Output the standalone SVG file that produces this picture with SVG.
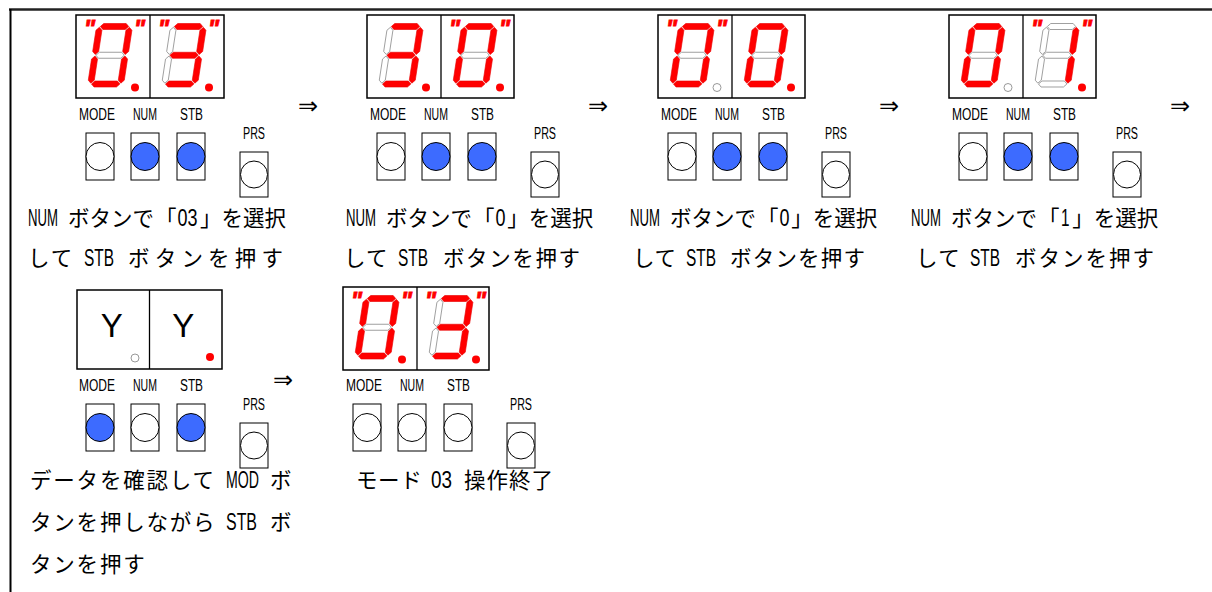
<svg xmlns="http://www.w3.org/2000/svg" width="1212" height="592" viewBox="0 0 1212 592">
<style>
.box{fill:#fff;stroke:#000;stroke-width:1.5}
.div{stroke:#000;stroke-width:1.3}
.on{fill:#ff0000;stroke:#e80000;stroke-width:0.6}
.off{fill:#fff;stroke:#999;stroke-width:0.9}
.don{fill:#ff0000}
.doff{fill:#fff;stroke:#999;stroke-width:1}
.btn{fill:#fff;stroke:#000;stroke-width:1}
.bl{fill:#3d6bff;stroke:#000;stroke-width:1}
.wh{fill:#fff;stroke:#000;stroke-width:1}
.lbl{font-family:"Liberation Sans",sans-serif;font-size:16px;text-anchor:middle;fill:#000}
.q{font-family:"Liberation Sans",sans-serif;font-weight:bold;font-style:italic;font-size:24px;fill:#ff0000;stroke:#ff0000;stroke-width:0.8;text-anchor:middle}
.txt{font-family:"Liberation Sans","Noto Sans CJK JP",sans-serif;font-size:21.5px;fill:#000}
.lat{font-size:23px}
.arr{font-family:"DejaVu Sans",sans-serif;font-size:24px;text-anchor:middle;fill:#000}
.yy{font-family:"Liberation Sans",sans-serif;font-size:33px;text-anchor:middle;fill:#000}
</style>
<defs>
<polygon id="sa" points="0.8,0 3.8,-3 26.2,-3 29.2,0 26.2,3 3.8,3"/>
<polygon id="sg" points="0.8,28.75 3.8,25.75 26.2,25.75 29.2,28.75 26.2,31.75 3.8,31.75"/>
<polygon id="sd" points="0.8,57.5 3.8,54.5 26.2,54.5 29.2,57.5 26.2,60.5 3.8,60.5"/>
<polygon id="sf" points="0,0.8 3,3.8 3,24.95 0,27.95 -3,24.95 -3,3.8"/>
<polygon id="sb" points="30,0.8 33,3.8 33,24.95 30,27.95 27,24.95 27,3.8"/>
<polygon id="se" points="0,29.55 3,32.55 3,53.7 0,56.7 -3,53.7 -3,32.55"/>
<polygon id="sc" points="30,29.55 33,32.55 33,53.7 30,56.7 27,53.7 27,32.55"/>
<g id="dig0" transform="skewX(-8.7)">
<use href="#sa" class="on"/><use href="#sb" class="on"/><use href="#sc" class="on"/><use href="#sd" class="on"/><use href="#se" class="on"/><use href="#sf" class="on"/><use href="#sg" class="off"/>
</g>
<g id="dig3" transform="skewX(-8.7)">
<use href="#sa" class="on"/><use href="#sb" class="on"/><use href="#sc" class="on"/><use href="#sd" class="on"/><use href="#se" class="off"/><use href="#sf" class="off"/><use href="#sg" class="on"/>
</g>
<g id="dig1" transform="skewX(-8.7)">
<use href="#sa" class="off"/><use href="#sb" class="on"/><use href="#sc" class="on"/><use href="#sd" class="off"/><use href="#se" class="off"/><use href="#sf" class="off"/><use href="#sg" class="off"/>
</g>
</defs>

<g id="frame">
<line x1="9" y1="9.5" x2="1212" y2="9.5" stroke="#222" stroke-width="2.5"/>
<line x1="10.5" y1="9" x2="10.5" y2="592" stroke="#000" stroke-width="2"/>
</g>

<g id="disp1" transform="translate(76,15)">
<rect class="box" x="0" y="0" width="148" height="83"/>
<line class="div" x1="74" y1="0" x2="74" y2="83"/>
<use href="#dig0" transform="translate(23.5,11.5)"/>
<use href="#dig3" transform="translate(97.5,11.5)"/>
<circle class="don" cx="59" cy="72.5" r="4"/>
<circle class="don" cx="133" cy="72.5" r="4"/>
<text class="q" x="13.5" y="22">"</text><text class="q" x="63.5" y="22">"</text>
<text class="q" x="87.5" y="22">"</text><text class="q" x="137.5" y="22">"</text>
</g>
<g id="disp2" transform="translate(367,15)">
<rect class="box" x="0" y="0" width="147" height="83"/>
<line class="div" x1="74" y1="0" x2="74" y2="83"/>
<use href="#dig3" transform="translate(23.5,11.5)"/>
<use href="#dig0" transform="translate(97.5,11.5)"/>
<circle class="don" cx="59" cy="72.5" r="4"/>
<circle class="don" cx="133" cy="72.5" r="4"/>
<text class="q" x="87.5" y="22">"</text><text class="q" x="137.5" y="22">"</text>
</g>
<g id="disp3" transform="translate(658,15)">
<rect class="box" x="0" y="0" width="147" height="83"/>
<line class="div" x1="74" y1="0" x2="74" y2="83"/>
<use href="#dig0" transform="translate(23.5,11.5)"/>
<use href="#dig0" transform="translate(97.5,11.5)"/>
<circle class="doff" cx="59" cy="72.5" r="4"/>
<circle class="don" cx="133" cy="72.5" r="4"/>
<text class="q" x="13.5" y="22">"</text><text class="q" x="63.5" y="22">"</text>
</g>
<g id="disp4" transform="translate(949,15)">
<rect class="box" x="0" y="0" width="147" height="83"/>
<line class="div" x1="74" y1="0" x2="74" y2="83"/>
<use href="#dig0" transform="translate(23.5,11.5)"/>
<use href="#dig1" transform="translate(97.5,11.5)"/>
<circle class="doff" cx="59" cy="72.5" r="4"/>
<circle class="don" cx="133" cy="72.5" r="4"/>
<text class="q" x="87.5" y="22">"</text><text class="q" x="137.5" y="22">"</text>
</g>
<g id="disp5" transform="translate(77,290)">
<rect class="box" x="0" y="0" width="145" height="79"/>
<line class="div" x1="72.5" y1="0" x2="72.5" y2="79"/>
<text class="yy" x="34.7" y="47">Y</text>
<text class="yy" x="106.3" y="47">Y</text>
<circle class="doff" cx="58" cy="68" r="4"/>
<circle class="don" cx="133" cy="67" r="4"/>
</g>
<g id="disp6" transform="translate(343,287)">
<rect class="box" x="0" y="0" width="146" height="83"/>
<line class="div" x1="74" y1="0" x2="74" y2="83"/>
<use href="#dig0" transform="translate(23.5,11.5)"/>
<use href="#dig3" transform="translate(97.5,11.5)"/>
<circle class="don" cx="59" cy="72.5" r="4"/>
<circle class="don" cx="133" cy="72.5" r="4"/>
<text class="q" x="13.5" y="22">"</text><text class="q" x="63.5" y="22">"</text>
<text class="q" x="87.5" y="22">"</text><text class="q" x="137.5" y="22">"</text>
</g>

<g id="panel1">
<text class="lbl" x="97" y="120" textLength="36" lengthAdjust="spacingAndGlyphs">MODE</text>
<text class="lbl" x="145" y="120" textLength="24" lengthAdjust="spacingAndGlyphs">NUM</text>
<text class="lbl" x="191.5" y="120" textLength="23" lengthAdjust="spacingAndGlyphs">STB</text>
<text class="lbl" x="254" y="139" textLength="22" lengthAdjust="spacingAndGlyphs">PRS</text>
<rect class="btn" x="86" y="133" width="28" height="47"/><circle class="wh" cx="100" cy="156.5" r="14"/>
<rect class="btn" x="131" y="133" width="28" height="47"/><circle class="bl" cx="145" cy="156.5" r="14"/>
<rect class="btn" x="177" y="133" width="28" height="47"/><circle class="bl" cx="191" cy="156.5" r="14"/>
<rect class="btn" x="240" y="152" width="28" height="45"/><circle class="wh" cx="254" cy="174.5" r="13.5"/>
</g>
<g id="panel2" transform="translate(291,0)">
<text class="lbl" x="97" y="120" textLength="36" lengthAdjust="spacingAndGlyphs">MODE</text>
<text class="lbl" x="145" y="120" textLength="24" lengthAdjust="spacingAndGlyphs">NUM</text>
<text class="lbl" x="191.5" y="120" textLength="23" lengthAdjust="spacingAndGlyphs">STB</text>
<text class="lbl" x="254" y="139" textLength="22" lengthAdjust="spacingAndGlyphs">PRS</text>
<rect class="btn" x="86" y="133" width="28" height="47"/><circle class="wh" cx="100" cy="156.5" r="14"/>
<rect class="btn" x="131" y="133" width="28" height="47"/><circle class="bl" cx="145" cy="156.5" r="14"/>
<rect class="btn" x="177" y="133" width="28" height="47"/><circle class="bl" cx="191" cy="156.5" r="14"/>
<rect class="btn" x="240" y="152" width="28" height="45"/><circle class="wh" cx="254" cy="174.5" r="13.5"/>
</g>
<g id="panel3" transform="translate(582,0)">
<text class="lbl" x="97" y="120" textLength="36" lengthAdjust="spacingAndGlyphs">MODE</text>
<text class="lbl" x="145" y="120" textLength="24" lengthAdjust="spacingAndGlyphs">NUM</text>
<text class="lbl" x="191.5" y="120" textLength="23" lengthAdjust="spacingAndGlyphs">STB</text>
<text class="lbl" x="254" y="139" textLength="22" lengthAdjust="spacingAndGlyphs">PRS</text>
<rect class="btn" x="86" y="133" width="28" height="47"/><circle class="wh" cx="100" cy="156.5" r="14"/>
<rect class="btn" x="131" y="133" width="28" height="47"/><circle class="bl" cx="145" cy="156.5" r="14"/>
<rect class="btn" x="177" y="133" width="28" height="47"/><circle class="bl" cx="191" cy="156.5" r="14"/>
<rect class="btn" x="240" y="152" width="28" height="45"/><circle class="wh" cx="254" cy="174.5" r="13.5"/>
</g>
<g id="panel4" transform="translate(873,0)">
<text class="lbl" x="97" y="120" textLength="36" lengthAdjust="spacingAndGlyphs">MODE</text>
<text class="lbl" x="145" y="120" textLength="24" lengthAdjust="spacingAndGlyphs">NUM</text>
<text class="lbl" x="191.5" y="120" textLength="23" lengthAdjust="spacingAndGlyphs">STB</text>
<text class="lbl" x="254" y="139" textLength="22" lengthAdjust="spacingAndGlyphs">PRS</text>
<rect class="btn" x="86" y="133" width="28" height="47"/><circle class="wh" cx="100" cy="156.5" r="14"/>
<rect class="btn" x="131" y="133" width="28" height="47"/><circle class="bl" cx="145" cy="156.5" r="14"/>
<rect class="btn" x="177" y="133" width="28" height="47"/><circle class="bl" cx="191" cy="156.5" r="14"/>
<rect class="btn" x="240" y="152" width="28" height="45"/><circle class="wh" cx="254" cy="174.5" r="13.5"/>
</g>
<g id="panel5" transform="translate(0,271)">
<text class="lbl" x="97" y="120" textLength="36" lengthAdjust="spacingAndGlyphs">MODE</text>
<text class="lbl" x="145" y="120" textLength="24" lengthAdjust="spacingAndGlyphs">NUM</text>
<text class="lbl" x="191.5" y="120" textLength="23" lengthAdjust="spacingAndGlyphs">STB</text>
<text class="lbl" x="254" y="139" textLength="22" lengthAdjust="spacingAndGlyphs">PRS</text>
<rect class="btn" x="86" y="133" width="28" height="47"/><circle class="bl" cx="100" cy="156.5" r="14"/>
<rect class="btn" x="131" y="133" width="28" height="47"/><circle class="wh" cx="145" cy="156.5" r="14"/>
<rect class="btn" x="177" y="133" width="28" height="47"/><circle class="bl" cx="191" cy="156.5" r="14"/>
<rect class="btn" x="240" y="152" width="28" height="45"/><circle class="wh" cx="254" cy="174.5" r="13.5"/>
</g>
<g id="panel6" transform="translate(267,271)">
<text class="lbl" x="97" y="120" textLength="36" lengthAdjust="spacingAndGlyphs">MODE</text>
<text class="lbl" x="145" y="120" textLength="24" lengthAdjust="spacingAndGlyphs">NUM</text>
<text class="lbl" x="191.5" y="120" textLength="23" lengthAdjust="spacingAndGlyphs">STB</text>
<text class="lbl" x="254" y="139" textLength="22" lengthAdjust="spacingAndGlyphs">PRS</text>
<rect class="btn" x="86" y="133" width="28" height="47"/><circle class="wh" cx="100" cy="156.5" r="14"/>
<rect class="btn" x="131" y="133" width="28" height="47"/><circle class="wh" cx="145" cy="156.5" r="14"/>
<rect class="btn" x="177" y="133" width="28" height="47"/><circle class="wh" cx="191" cy="156.5" r="14"/>
<rect class="btn" x="240" y="152" width="28" height="45"/><circle class="wh" cx="254" cy="174.5" r="13.5"/>
</g>

<g id="connectors">
<text class="arr" x="308" y="114">⇒</text>
<text class="arr" x="598" y="114">⇒</text>
<text class="arr" x="889" y="114">⇒</text>
<text class="arr" x="1180" y="114">⇒</text>
<text class="arr" x="283" y="388">⇒</text>
</g>

<g id="captions">
<text class="txt" y="226"><tspan class="lat" x="28" textLength="30" lengthAdjust="spacingAndGlyphs">NUM</tspan> <tspan x="68">ボタンで</tspan><tspan x="155">「</tspan><tspan class="lat" x="177.5" textLength="20" lengthAdjust="spacingAndGlyphs">03</tspan><tspan x="200">」</tspan><tspan x="221.5">を選択</tspan></text>
<text class="txt" y="266"><tspan x="28" style="letter-spacing:2px">して</tspan> <tspan class="lat" x="84" textLength="30" lengthAdjust="spacingAndGlyphs">STB</tspan> <tspan x="128" style="letter-spacing:5.2px">ボタンを押す</tspan></text>

<text class="txt" y="226"><tspan class="lat" x="346" textLength="30" lengthAdjust="spacingAndGlyphs">NUM</tspan> <tspan x="386">ボタンで</tspan><tspan x="473">「</tspan><tspan class="lat" x="495.5" textLength="10" lengthAdjust="spacingAndGlyphs">0</tspan><tspan x="507.3">」</tspan><tspan x="528.8">を選択</tspan></text>
<text class="txt" y="266"><tspan x="344" style="letter-spacing:1.1px">して</tspan> <tspan class="lat" x="398" textLength="30" lengthAdjust="spacingAndGlyphs">STB</tspan> <tspan x="443" style="letter-spacing:1.6px">ボタンを押す</tspan></text>

<text class="txt" y="226"><tspan class="lat" x="630" textLength="30" lengthAdjust="spacingAndGlyphs">NUM</tspan> <tspan x="670">ボタンで</tspan><tspan x="757">「</tspan><tspan class="lat" x="779.5" textLength="10" lengthAdjust="spacingAndGlyphs">0</tspan><tspan x="791.3">」</tspan><tspan x="812.8">を選択</tspan></text>
<text class="txt" y="266"><tspan x="633" style="letter-spacing:0.7px">して</tspan> <tspan class="lat" x="686" textLength="30" lengthAdjust="spacingAndGlyphs">STB</tspan> <tspan x="730" style="letter-spacing:1.2px">ボタンを押す</tspan></text>

<text class="txt" y="226"><tspan class="lat" x="911" textLength="30" lengthAdjust="spacingAndGlyphs">NUM</tspan> <tspan x="951">ボタンで</tspan><tspan x="1038">「</tspan><tspan class="lat" x="1061" textLength="8.5" lengthAdjust="spacingAndGlyphs">1</tspan><tspan x="1072.3">」</tspan><tspan x="1093.8">を選択</tspan></text>
<text class="txt" y="266"><tspan x="916" style="letter-spacing:1.4px">して</tspan> <tspan class="lat" x="970" textLength="30" lengthAdjust="spacingAndGlyphs">STB</tspan> <tspan x="1015" style="letter-spacing:2px">ボタンを押す</tspan></text>

<text class="txt" y="488"><tspan x="30" style="letter-spacing:1.8px">データを確認して</tspan> <tspan class="lat" x="226" textLength="33" lengthAdjust="spacingAndGlyphs">MOD</tspan> <tspan x="270">ボ</tspan></text>
<text class="txt" y="530"><tspan x="30" style="letter-spacing:1.8px">タンを押しながら</tspan> <tspan class="lat" x="226" textLength="31" lengthAdjust="spacingAndGlyphs">STB</tspan> <tspan x="270">ボ</tspan></text>
<text class="txt" y="572"><tspan x="30" style="letter-spacing:1.8px">タンを押す</tspan></text>
<text class="txt" y="488"><tspan x="356" style="letter-spacing:0.6px">モード</tspan> <tspan class="lat" x="431" textLength="21" lengthAdjust="spacingAndGlyphs">03</tspan> <tspan x="464" style="letter-spacing:1px">操作終了</tspan></text>
</g>
</svg>
